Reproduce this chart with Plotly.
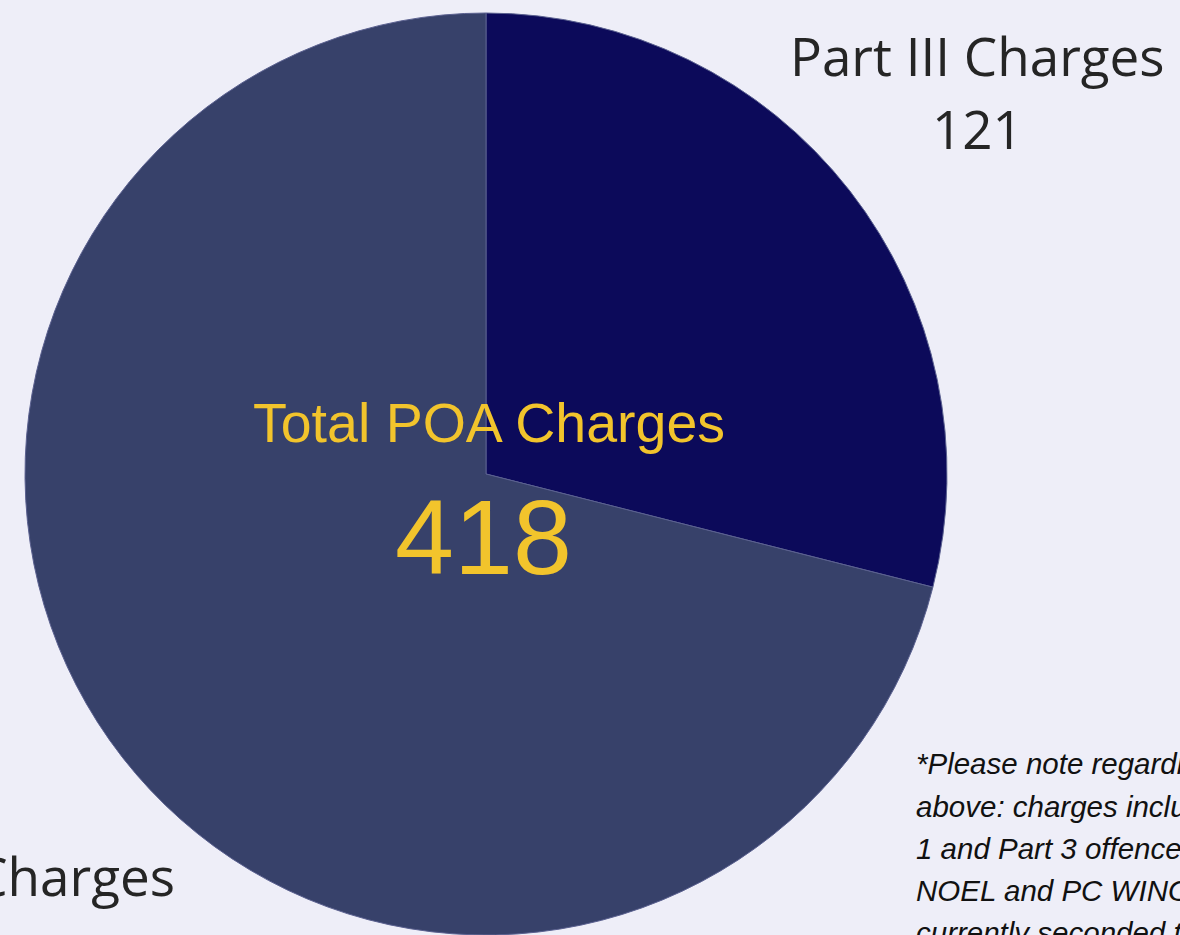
import plotly.graph_objects as go

labels = ["Part III Charges", "Part I Charges"]
values = [121, 297]
colors = ["#0c0a5a", "#37416a"]
total_label = "Total POA Charges"
total_value = sum(values)
note_lines = [
    "*Please note regarding the numbers",
    "above: charges include both Part",
    "1 and Part 3 offences laid by PC",
    "NOEL and PC WINGER who are",
    "currently seconded to the unit.",
]

W, H = 1180, 935
BG = "#eeeef8"


def px(x):
    return x / W


def py(y):
    return 1 - y / H


fig = go.Figure()
fig.add_trace(go.Pie(
    labels=labels,
    values=values,
    sort=False,
    direction="clockwise",
    rotation=0,
    marker=dict(colors=colors, line=dict(color="#5b6190", width=1)),
    textinfo="none",
    hoverinfo="label+value",
    showlegend=False,
    domain=dict(x=[px(486 - 461), px(486 + 461)], y=[0, py(13)]),
))

ann = []
label_font = dict(family="Open Sans", size=53, color="#252525")
# Part III label
ann.append(dict(x=px(977), y=py(55), text=labels[0], font=label_font,
                xanchor="center", yanchor="middle"))
ann.append(dict(x=px(977), y=py(129), text=str(values[0]), font=label_font,
                xanchor="center", yanchor="middle"))
# Part I label (partly outside)
ann.append(dict(x=px(177), y=py(875), text=labels[1], font=label_font,
                xanchor="right", yanchor="middle"))
ann.append(dict(x=px(60), y=py(975), text=str(values[1]), font=label_font,
                xanchor="center", yanchor="middle"))
# Center text
ann.append(dict(x=px(489), y=py(423), text=total_label,
                font=dict(family="Arial", size=55.5, color="#f2c42c"),
                xanchor="center", yanchor="middle"))
ann.append(dict(x=px(483), y=py(537), text=str(total_value),
                font=dict(family="Arial", size=106, color="#f2c42c"),
                xanchor="center", yanchor="middle"))
# Note
for i, line in enumerate(note_lines):
    base = [773, 816, 858, 900, 942][i]
    ann.append(dict(x=px(914), y=py(base - 10), text=line,
                    font=dict(family="Arial", size=29.5, color="#111111", style="italic"),
                    xanchor="left", yanchor="middle"))

for a in ann:
    a.update(xref="paper", yref="paper", showarrow=False)

fig.update_layout(
    width=W, height=H,
    margin=dict(l=0, r=0, t=0, b=0),
    paper_bgcolor=BG, plot_bgcolor=BG,
    annotations=ann,
)

post = (
    "document.documentElement.style.margin='0';"
    "document.body.style.margin='0';document.body.style.padding='0';"
    "document.body.style.overflow='hidden';"
    "document.body.style.background='" + BG + "';"
    "document.documentElement.style.background='" + BG + "';"
)

fig.write_html("out.html", config={"displayModeBar": False}, post_script=post)
